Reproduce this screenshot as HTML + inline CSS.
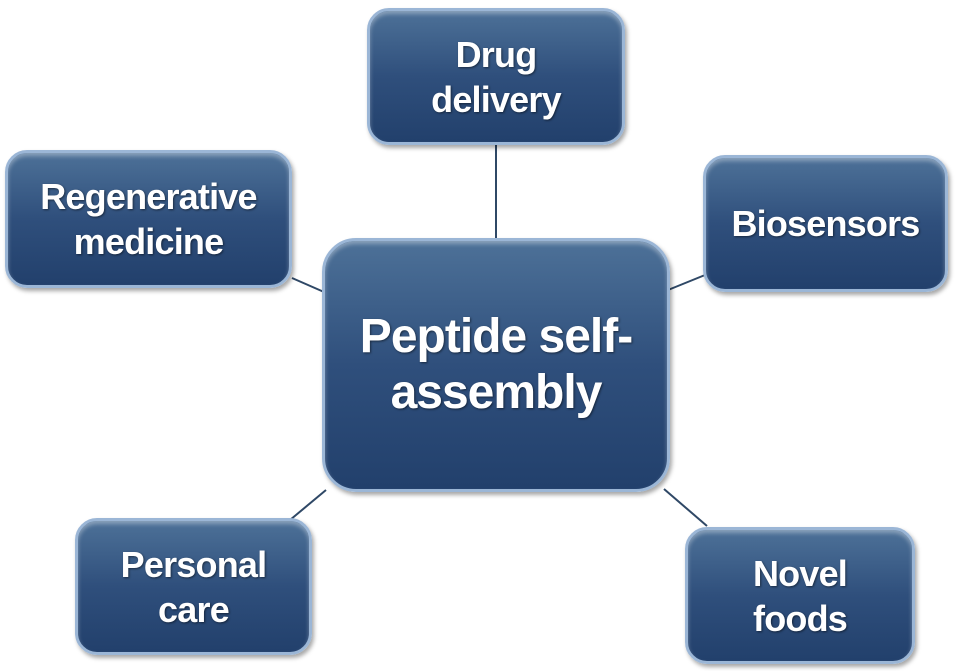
<!DOCTYPE html>
<html><head><style>
body{margin:0;width:957px;height:671px;background:#fff;position:relative;overflow:hidden;font-family:"Liberation Sans",sans-serif}
.b{position:absolute;box-sizing:border-box;border-radius:22px;background:linear-gradient(#4d7198,#2f4f7c 50%,#22406c);border:3px solid #9bb6d6;box-shadow:inset 0 3px 4px rgba(255,255,255,.35),2px 3px 4px rgba(0,0,0,.35);color:#fff;font-weight:bold;display:flex;align-items:center;justify-content:center;text-align:center;font-size:36px;line-height:45px;text-shadow:1px 1px 2px rgba(0,0,0,.5);letter-spacing:-0.8px;white-space:nowrap}
svg{position:absolute;left:0;top:0}
</style></head><body>
<svg width="957" height="671"><g stroke="#2f4866" stroke-width="2">
<line x1="496" y1="145" x2="496" y2="240"/>
<line x1="292" y1="278" x2="324" y2="292"/>
<line x1="668" y1="290" x2="705" y2="275"/>
<line x1="290" y1="520" x2="326" y2="490"/>
<line x1="664" y1="489" x2="707" y2="526"/>
</g></svg>
<div class="b" style="left:367px;top:8px;width:258px;height:137px">Drug<br>delivery</div>
<div class="b" style="left:5px;top:150px;width:287px;height:138px">Regenerative<br>medicine</div>
<div class="b" style="left:703px;top:155px;width:245px;height:137px">Biosensors</div>
<div class="b" style="left:322px;top:238px;width:348px;height:254px;border-radius:34px;font-size:48px;line-height:56px;letter-spacing:-1px">Peptide self-<br>assembly</div>
<div class="b" style="left:75px;top:518px;width:237px;height:137px">Personal<br>care</div>
<div class="b" style="left:685px;top:527px;width:230px;height:137px">Novel<br>foods</div>
</body></html>
